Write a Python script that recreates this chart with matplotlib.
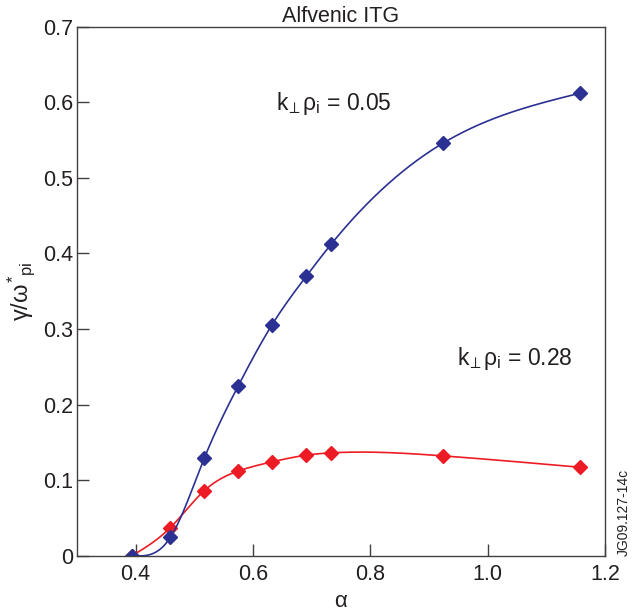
import numpy as np
import matplotlib
matplotlib.use('Agg')
import matplotlib.pyplot as plt

plt.rcParams['font.family'] = ['Liberation Sans', 'DejaVu Sans']
plt.rcParams['mathtext.fontset'] = 'custom'
plt.rcParams['mathtext.rm'] = 'Liberation Sans'
plt.rcParams['mathtext.it'] = 'Liberation Sans'
plt.rcParams['mathtext.bf'] = 'Liberation Sans:bold'

# data
alpha = [0.394, 0.459, 0.517, 0.575, 0.632, 0.691, 0.733, 0.924, 1.157]
gamma_k005 = [0.0, 0.024, 0.129, 0.225, 0.305, 0.370, 0.412, 0.546, 0.612]
gamma_k028 = [0.0, 0.037, 0.086, 0.112, 0.124, 0.133, 0.136, 0.132, 0.117]

xticks = [0.4, 0.6, 0.8, 1.0, 1.2]
xticklabels = ['0.4', '0.6', '0.8', '1.0', '1.2']
yticks = [0, 0.1, 0.2, 0.3, 0.4, 0.5, 0.6, 0.7]
yticklabels = ['0', '0.1', '0.2', '0.3', '0.4', '0.5', '0.6', '0.7']

blue = '#2b3192'
red = '#ed1c24'
ink = '#231f20'


def spline(x, y, n=300):
    # natural cubic spline through the points
    x = np.asarray(x, float)
    y = np.asarray(y, float)
    m = len(x)
    h = np.diff(x)
    A = np.zeros((m, m))
    b = np.zeros(m)
    A[0, 0] = A[-1, -1] = 1
    for i in range(1, m - 1):
        A[i, i - 1] = h[i - 1]
        A[i, i] = 2 * (h[i - 1] + h[i])
        A[i, i + 1] = h[i]
        b[i] = 6 * ((y[i + 1] - y[i]) / h[i] - (y[i] - y[i - 1]) / h[i - 1])
    M = np.linalg.solve(A, b)
    xs = np.linspace(x[0], x[-1], n)
    k = np.clip(np.searchsorted(x, xs) - 1, 0, m - 2)
    t = xs - x[k]
    hk = h[k]
    a = (M[k + 1] - M[k]) / (6 * hk)
    bb = M[k] / 2
    c = (y[k + 1] - y[k]) / hk - hk * (2 * M[k] + M[k + 1]) / 6
    ys = y[k] + c * t + bb * t ** 2 + a * t ** 3
    return xs, ys


fig = plt.figure(figsize=(6.38, 6.13), dpi=100)
ax = fig.add_axes([0.1207, 0.0936, 0.8276, 0.8628])

xs, ys = spline(alpha, gamma_k028)
ax.plot(xs, ys, color=red, lw=1.2)
ax.plot(alpha, gamma_k028, 'D', color=red, ms=7.4, mec=red)

xs, ys = spline(alpha, gamma_k005)
ax.plot(xs, ys, color=blue, lw=1.2)
ax.plot(alpha, gamma_k005, 'D', color=blue, ms=7.4, mec=blue)

ax.set_xlim(0.3, 1.2)
ax.set_ylim(0, 0.7)
ax.set_xticks(xticks)
ax.set_xticklabels(xticklabels)
ax.set_yticks(yticks)
ax.set_yticklabels(yticklabels)
ax.tick_params(direction='in', length=8.5, width=1, colors='#404040',
               labelcolor=ink, labelsize=15.5)
ax.tick_params(axis='y', pad=3)
ax.tick_params(axis='x', pad=6)
for s in ax.spines.values():
    s.set_color('#404040')
    s.set_linewidth(1)

ax.set_title('Alfvenic ITG', fontsize=15.5, color=ink, pad=2)
ax.set_xlabel(r'$\alpha$', fontsize=16, color=ink, labelpad=4)
ax.set_ylabel(r'$\gamma/\omega^{*}{}_{\mathrm{pi}}$', fontsize=17, color=ink, labelpad=4)

lab = r'k$_{\!\perp}$ρ$_{\mathrm{i}}$ = '
ax.text(0.737, 0.599, lab + '0.05', fontsize=16.5,
        color=ink, ha='center', va='center')
ax.text(1.047, 0.2615, lab + '0.28', fontsize=16.5,
        color=ink, ha='center', va='center')

ax.text(1.022, 0.0, 'JG09.127-14c', transform=ax.transAxes, rotation=90,
        fontsize=10, color=ink, ha='left', va='bottom')

fig.savefig('out.png', dpi=100)
